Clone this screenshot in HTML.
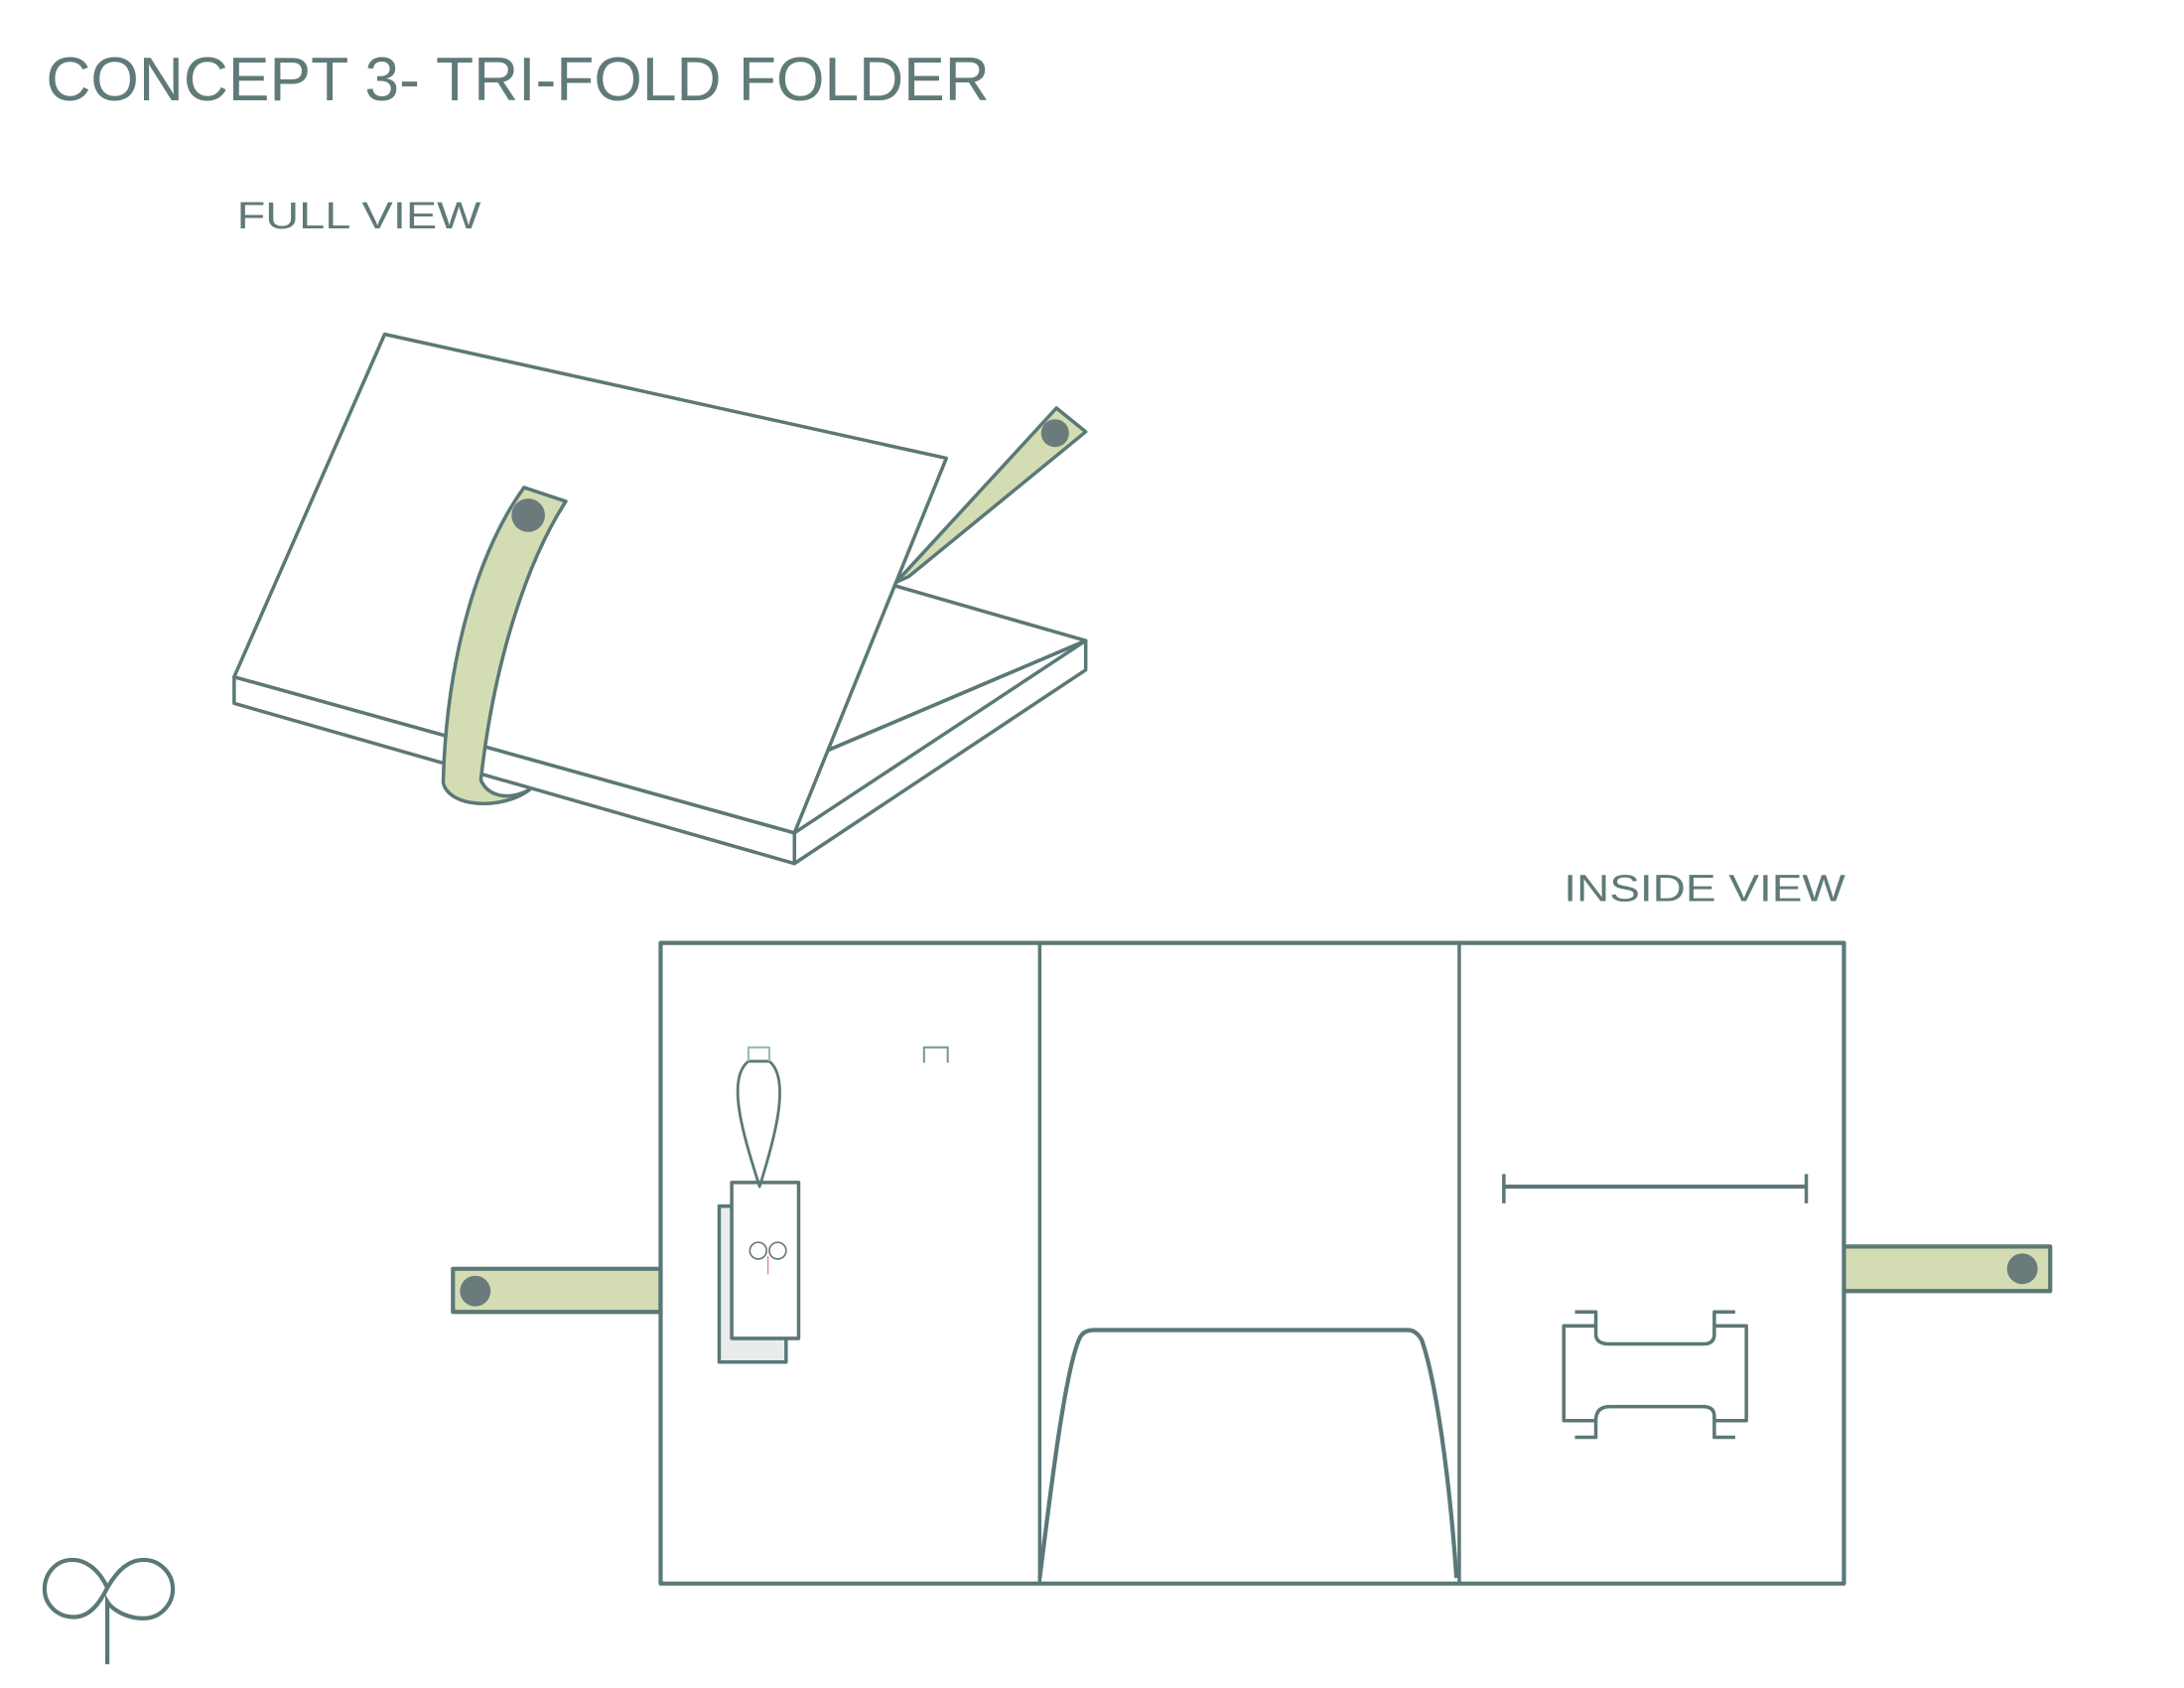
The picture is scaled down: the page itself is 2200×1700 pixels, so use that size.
<!DOCTYPE html>
<html><head><style>html,body{margin:0;padding:0;background:#fff}svg{display:block}</style></head>
<body>
<svg width="2200" height="1700" viewBox="0 0 1567 1212" preserveAspectRatio="none" xmlns="http://www.w3.org/2000/svg">
<g font-family="Liberation Sans, sans-serif" fill="#5f7a78">
<text x="33" y="72" font-size="44" textLength="677" lengthAdjust="spacingAndGlyphs">CONCEPT 3- TRI-FOLD FOLDER</text>
<text x="170" y="164" font-size="27" textLength="175" lengthAdjust="spacingAndGlyphs">FULL VIEW</text>
<text x="1122" y="647" font-size="27" textLength="202" lengthAdjust="spacingAndGlyphs">INSIDE VIEW</text>
</g>
<g stroke="#5b7877" stroke-width="2.5" fill="#fff" stroke-linejoin="round">
<polygon points="640,420 779,460 591,540"/>
<polygon points="570,598 779,460 779,481 570,620"/>
<line x1="591" y1="540" x2="779" y2="460"/>
<polygon points="643,418 758,293 779,310 652,414" fill="#d3dcb3"/>
<circle cx="757" cy="311" r="10" fill="#6b7b7b" stroke="none"/>
<polygon points="168,486 570,598 570,620 168,505"/>
<polygon points="276,240 679,329 570,598 168,486"/>
<path d="M376,350 L406,360 C380,400 355,470 345,560 C350,572 365,575 380,567 C360,582 322,580 318,562 C320,480 340,400 376,350 Z" fill="#d3dcb3"/>
<circle cx="379" cy="370" r="12" fill="#6b7b7b" stroke="none"/>

<rect x="325" y="911" width="149" height="31" fill="#d3dcb3" stroke-width="3"/>
<rect x="1323" y="895" width="148" height="32" fill="#d3dcb3" stroke-width="3"/>
<rect x="474" y="677" width="849" height="460" stroke-width="3"/>
<line x1="746" y1="677" x2="746" y2="1137"/>
<line x1="1047" y1="677" x2="1047" y2="1137"/>
<path d="M746,1133 C755,1060 765,980 775,960 Q778,955 785,955 L1010,955 Q1016,955 1020,962 C1030,990 1040,1060 1045,1133" fill="none" stroke-width="3"/>
<line x1="1079" y1="852" x2="1296" y2="852" stroke-width="3"/>
<line x1="1079" y1="843" x2="1079" y2="864"/>
<line x1="1296" y1="843" x2="1296" y2="864"/>
<path d="M1130,942 L1145,942 L1145,958 Q1145,965 1155,965 L1222,965 Q1230,965 1230,958 L1230,942 L1245,942 M1230,952 L1253,952 L1253,1020 L1230,1020 L1230,1017 Q1230,1010 1222,1010 L1155,1010 Q1145,1010 1145,1020 L1122,1020 L1122,952 L1145,952 M1145,1020 L1145,1032 L1130,1032 M1230,1020 L1230,1032 L1245,1032" fill="none" stroke-width="2.5"/>
<rect x="516" y="866" width="48" height="112" fill="#e8ecea"/>
<rect x="525" y="849" width="48" height="112"/>
<path d="M545,852 C535,820 520,775 537,762 L552,762 C568,775 555,820 545,852 Z" fill="none" stroke-width="2"/>
<path d="M537,762 L537,752 L552,752 L552,762" fill="none" stroke="#9cb8b8" stroke-width="1.5"/>
<path d="M663,763 L663,752 L680,752 L680,763" fill="none" stroke="#7a9a9a" stroke-width="1.5"/>
</g>
<g fill="none" stroke="#6b7b7b" stroke-width="1.2">
<circle cx="544" cy="898" r="6"/><circle cx="558" cy="898" r="6"/>
</g>
<line x1="551" y1="902" x2="551" y2="915" stroke="#d88" stroke-width="1"/>
<circle cx="341" cy="927" r="11" fill="#6b7b7b"/>
<circle cx="1451" cy="911" r="11" fill="#6b7b7b"/>
<g fill="none" stroke="#5b7877" stroke-width="3">
<path d="M77,1140 C70,1125 60,1120 52,1120 C40,1120 32,1130 32,1141 C32,1152 41,1161 53,1161 C65,1161 72,1150 77,1140 C84,1128 92,1120 103,1120 C115,1120 124,1130 124,1141 C124,1152 115,1162 103,1162 C90,1162 80,1155 77,1150 L77,1195"/>
</g>
</svg>
</body></html>
